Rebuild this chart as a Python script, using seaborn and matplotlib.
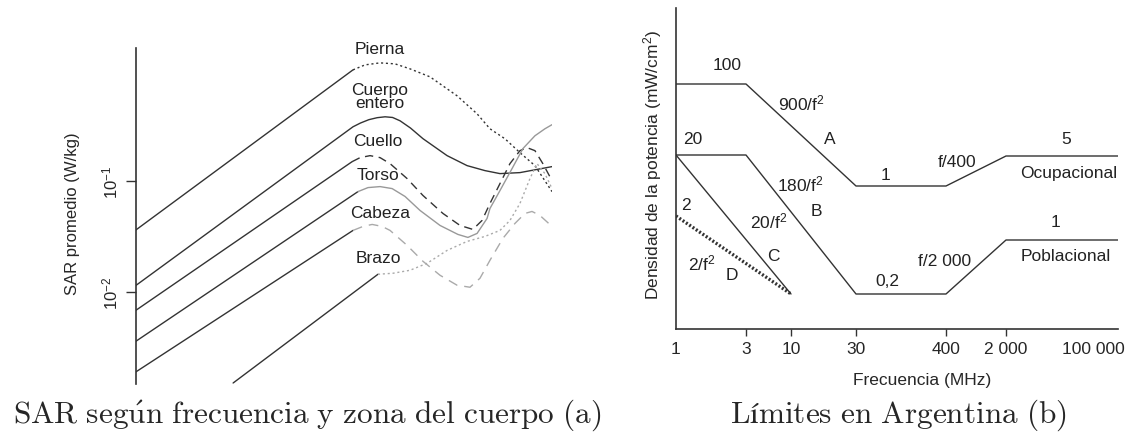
import numpy as np
import seaborn as sns
from matplotlib import pyplot as plt

sns.set_style("white")
plt.rcParams["font.family"] = ["Liberation Sans", "DejaVu Sans"]
plt.rcParams["mathtext.default"] = "regular"

# --- (a) SAR vs frecuencia (posición relativa en el eje de frecuencia, log10 SAR en W/kg)
pierna_x = [0.0, 0.522]
pierna_e = [-1.440, 0.004]
pierna_dot_x = [0.522, 0.551, 0.587, 0.623, 0.659, 0.707, 0.772, 0.820, 0.851, 0.887, 0.923, 0.959, 1.0]
pierna_dot_e = [0.004, 0.049, 0.067, 0.058, 0.013, -0.059, -0.230, -0.392, -0.527, -0.617, -0.742, -0.859, -1.093]

cuerpo_x = [0.0, 0.522, 0.540, 0.560, 0.580, 0.599, 0.617, 0.635, 0.660, 0.690, 0.748, 0.796,
            0.839, 0.875, 0.923, 1.0]
cuerpo_e = [-1.940, -0.509, -0.475, -0.445, -0.427, -0.419, -0.425, -0.455, -0.520, -0.616, -0.769,
            -0.859, -0.904, -0.931, -0.922, -0.868]

cuello_x = [0.0, 0.520]
cuello_e = [-2.164, -0.823]
cuello_dash_x = [0.520, 0.539, 0.563, 0.587, 0.611, 0.652, 0.690, 0.738, 0.779, 0.810, 0.832,
                 0.851, 0.875, 0.899, 0.923, 0.940, 0.959, 0.978, 1.0]
cuello_dash_e = [-0.823, -0.787, -0.769, -0.787, -0.841, -0.976, -1.128, -1.290, -1.398, -1.434, -1.353,
                 -1.200, -1.021, -0.841, -0.724, -0.697, -0.724, -0.841, -0.994]

torso_x = [0.0, 0.534]
torso_e = [-2.443, -1.093]
torso_gray_x = [0.534, 0.558, 0.587, 0.616, 0.647, 0.683, 0.731, 0.774, 0.798, 0.820, 0.844,
                0.851, 0.875, 0.904, 0.930, 0.959, 0.983, 1.0]
torso_gray_e = [-1.093, -1.057, -1.048, -1.066, -1.137, -1.263, -1.398, -1.479, -1.506, -1.470, -1.335,
                -1.245, -1.084, -0.886, -0.706, -0.590, -0.527, -0.490]

cabeza_x = [0.0, 0.522]
cabeza_e = [-2.719, -1.443]
cabeza_dash_x = [0.522, 0.546, 0.568, 0.592, 0.611, 0.652, 0.690, 0.731, 0.772, 0.803, 0.827,
                 0.851, 0.882, 0.911, 0.935, 0.952, 0.971, 1.0]
cabeza_dash_e = [-1.443, -1.407, -1.389, -1.407, -1.443, -1.578, -1.721, -1.847, -1.937, -1.955, -1.874,
                 -1.712, -1.515, -1.380, -1.290, -1.272, -1.308, -1.407]

brazo_x = [0.234, 0.582]
brazo_e = [-2.818, -1.838]
brazo_dot_x = [0.582, 0.618, 0.659, 0.700, 0.748, 0.796, 0.839, 0.875, 0.899, 0.923, 0.947, 0.964, 0.983, 1.0]
brazo_dot_e = [-1.838, -1.829, -1.802, -1.739, -1.623, -1.542, -1.497, -1.443, -1.353, -1.200, -0.976,
               -0.841, -0.931, -1.066]

etiquetas_a = ["Pierna", "Cuerpo\nentero", "Cuello", "Torso", "Cabeza", "Brazo"]
etiquetas_a_x = [0.587, 0.587, 0.582, 0.582, 0.587, 0.582]
etiquetas_a_e = [0.201, -0.230, -0.634, -0.940, -1.281, -1.686]

# --- (b) Límites en Argentina (frecuencia en MHz, nivel esquemático del diagrama)
ocup_f = [1, 3, 30, 400, 2000, 200000]
ocup_nivel = [245, 245, 143, 143, 173, 173]
pob_f = [1, 3, 30, 400, 2000, 200000]
pob_nivel = [174, 174, 35, 35, 89, 89]
c_f = [1, 10]
c_nivel = [174, 35]
d_f = [1, 10]
d_nivel = [113, 35]

ticks_f = [3, 10, 30, 400, 2000]
ticks_lbl = ["3", "10", "30", "400", "2 000"]
ticks_extremos = [1, 100000]
ticks_extremos_lbl = ["1", "100 000"]

# posiciones de las marcas del eje x (no es una escala log real)
anc_log = np.log10([1, 3, 10, 30, 400, 2000, 100000, 200000])
anc_pos = np.array([0, 70, 115, 180, 270, 330, 417, 442]) / 442.0


def fwd(f):
    with np.errstate(divide="ignore", invalid="ignore"):
        lf = np.log10(np.clip(f, 1e-9, None))
    return np.interp(lf, anc_log, anc_pos, left=-1, right=2)


def inv(p):
    return 10 ** np.interp(p, anc_pos, anc_log)


textos_b = [
    ("100", 726.7, 65.7), ("900/f$^2$", 801.7, 103.3), ("A", 830, 140), ("20", 692.7, 140),
    ("1", 885.7, 175), ("f/400", 956.7, 162.7), ("5", 1065.7, 139.3), ("Ocupacional", 1068.3, 173.3),
    ("180/f$^2$", 800, 184), ("B", 816, 212), ("2", 686, 206), ("20/f$^2$", 768.3, 221.7),
    ("C", 773.3, 256.7), ("2/f$^2$", 701.7, 263.3), ("D", 731.7, 275), ("0,2", 887.7, 281.7),
    ("f/2 000", 945, 261), ("1", 1055, 222.7), ("Poblacional", 1066, 256.7),
]

negro = "#333333"
gris = "#999999"
gris_claro = "#aaaaaa"

fig = plt.figure(figsize=(11.25, 4.39), dpi=100)
ax1 = fig.add_axes([135.7 / 1125, 54 / 439, 416.3 / 1125, 336 / 439])
ax2 = fig.add_axes([676 / 1125, 109 / 439, 442 / 1125, 320.7 / 439])


def linea(ax, x, y, **kw):
    sns.lineplot(x=x, y=y, ax=ax, sort=False, estimator=None, **kw)


# panel (a)
lw = 1.0
for xs, es in [(pierna_x, pierna_e), (cuerpo_x, cuerpo_e), (cuello_x, cuello_e),
               (torso_x, torso_e), (cabeza_x, cabeza_e), (brazo_x, brazo_e)]:
    linea(ax1, xs, 10 ** np.array(es), color=negro, lw=lw)
linea(ax1, pierna_dot_x, 10 ** np.array(pierna_dot_e), color=negro, lw=lw, linestyle=(0, (1.5, 2)))
linea(ax1, cuello_dash_x, 10 ** np.array(cuello_dash_e), color=negro, lw=lw, linestyle=(0, (6, 4)))
linea(ax1, torso_gray_x, 10 ** np.array(torso_gray_e), color=gris, lw=lw)
linea(ax1, cabeza_dash_x, 10 ** np.array(cabeza_dash_e), color=gris_claro, lw=lw, linestyle=(0, (7, 5)))
linea(ax1, brazo_dot_x, 10 ** np.array(brazo_dot_e), color=gris_claro, lw=lw, linestyle=(0, (1.5, 2)))

for t, x, e in zip(etiquetas_a, etiquetas_a_x, etiquetas_a_e):
    ax1.text(x, 10 ** e, t, ha="center", va="center", fontsize=12.5, color="#222222",
             linespacing=0.85, clip_on=False)

ax1.set_yscale("log")
ax1.set_xlim(0, 1)
ax1.set_ylim(10 ** -2.827, 10 ** 0.201)
ax1.set_yticks([1e-2, 1e-1])
ax1.set_yticklabels(["$10^{-2}$", "$10^{-1}$"])
ax1.yaxis.set_minor_locator(plt.NullLocator())
ax1.set_xticks([])
ax1.tick_params(axis="y", left=True, direction="out", length=7, width=1, color=negro, pad=4, labelsize=12)
plt.setp(ax1.get_yticklabels(), rotation=90, va="center")
for s in ["top", "right", "bottom"]:
    ax1.spines[s].set_visible(False)
ax1.spines["left"].set_color(negro)
ax1.spines["left"].set_linewidth(1.2)
ax1.set_ylabel("SAR promedio (W/kg)", fontsize=12, va="center")
ax1.yaxis.set_label_coords(-0.153, 0.509)
ax1.set_xlabel("")

# panel (b)
ax2.set_xscale("function", functions=(fwd, inv))
linea(ax2, ocup_f, ocup_nivel, color=negro, lw=1.0)
linea(ax2, pob_f, pob_nivel, color=negro, lw=1.0)
linea(ax2, c_f, c_nivel, color=negro, lw=1.0)
linea(ax2, d_f, d_nivel, color=negro, lw=2.4, linestyle=(0, (0.6, 0.6)))

ax2.set_xlim(1, 200000)
ax2.set_ylim(0, 320.7)
ax2.set_xticks(ticks_f)
ax2.set_xticklabels(ticks_lbl)
ax2.set_xticks(ticks_extremos, minor=True)
ax2.set_xticklabels(ticks_extremos_lbl, minor=True)
ax2.set_yticks([])
ax2.tick_params(axis="x", which="major", bottom=True, direction="out", length=5, width=1,
                color=negro, pad=4, labelsize=12.5)
ax2.tick_params(axis="x", which="minor", bottom=True, length=0, pad=9, labelsize=12.5)
for s in ["top", "right"]:
    ax2.spines[s].set_visible(False)
for s in ["left", "bottom"]:
    ax2.spines[s].set_color(negro)
    ax2.spines[s].set_linewidth(1.2)
ax2.set_xlabel("Frecuencia (MHz)", fontsize=12.5, va="center")
ax2.xaxis.set_label_coords(0.557, -0.159)
ax2.set_ylabel("Densidad de la potencia (mW/cm$^2$)", fontsize=12.5, va="center")
ax2.yaxis.set_label_coords(-0.052, 0.515)

for t, px, py in textos_b:
    ax2.text((px - 676) / 442, (330 - py) / 320.7, t, transform=ax2.transAxes,
             ha="center", va="center", fontsize=12.5, color="#222222")

fig.text(307 / 1125, 1 - 415 / 439,
         r"$\mathrm{SAR\ seg\acute{u}n\ frecuencia\ y\ zona\ del\ cuerpo\ (a)}$",
         ha="center", va="center", fontsize=22.5, math_fontfamily="cm")
fig.text(898 / 1125, 1 - 415 / 439, r"$\mathrm{Límites\ en\ Argentina\ (b)}$",
         ha="center", va="center", fontsize=22.5, math_fontfamily="cm")

fig.savefig("out.png", dpi=100, facecolor="white")
